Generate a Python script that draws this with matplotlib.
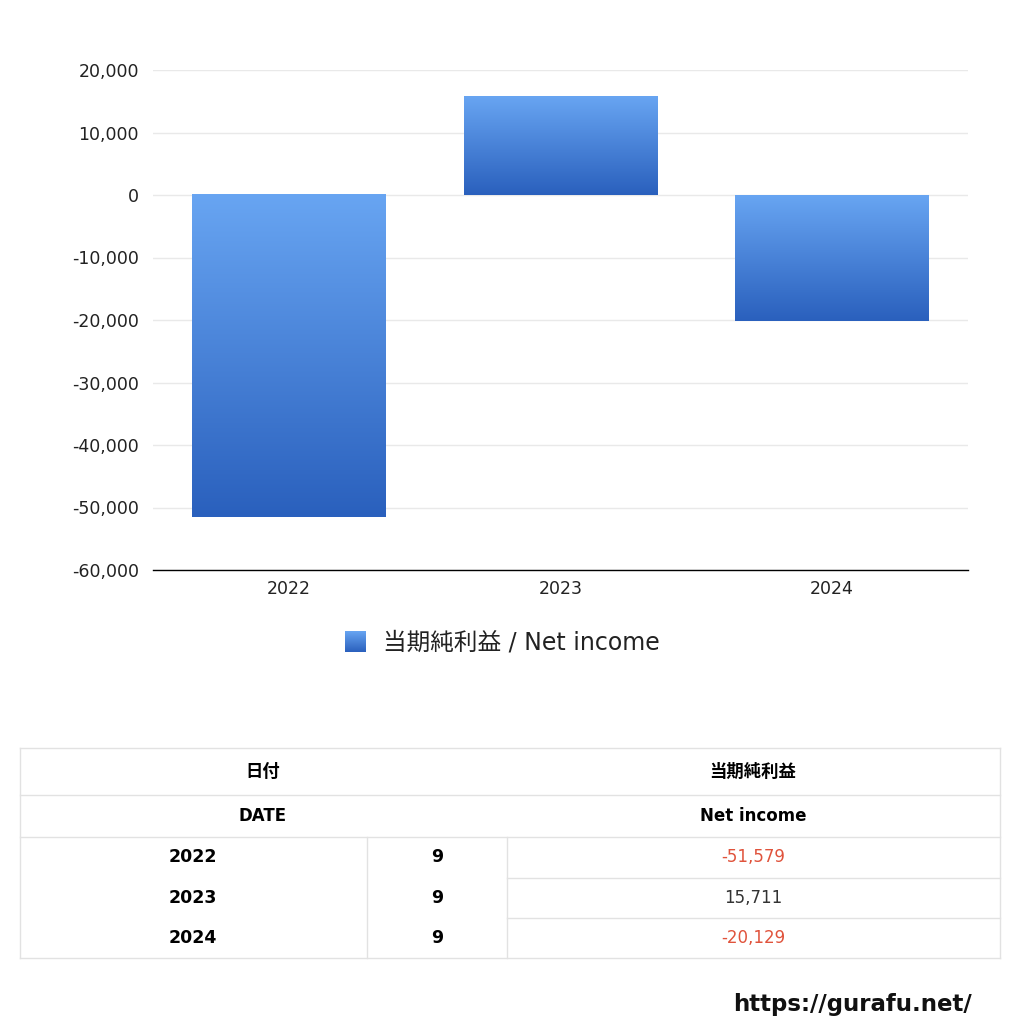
import matplotlib.pyplot as plt
import numpy as np
from matplotlib.colors import LinearSegmentedColormap

plt.rcParams['font.family'] = ['DejaVu Sans', 'Noto Sans CJK JP']

# data
years = ['2022', '2023', '2024']
months = ['9', '9', '9']
net_income = [-51579, 15711, -20129]
series_label = '当期純利益 / Net income'
yticks = [20000, 10000, 0, -10000, -20000, -30000, -40000, -50000, -60000]

LIGHT = '#68a5f2'
DARK = '#2a60bd'
GRID = '#e9e9e9'
cmap = LinearSegmentedColormap.from_list('bar', [LIGHT, DARK])
grad = np.linspace(0, 1, 256).reshape(-1, 1)

fig = plt.figure(figsize=(10.24, 10.24), dpi=100)
ax = fig.add_axes([153 / 1024, 1 - 570 / 1024, 815 / 1024, 500 / 1024])

x = np.arange(len(years))
bars = ax.bar(x, net_income, width=0.714, color='none', zorder=3)

# gradient fill: light at the top, dark at the bottom of each bar
for b in bars:
    x0, y0 = b.get_x(), b.get_y()
    w, h = b.get_width(), b.get_height()
    ylo, yhi = min(y0, y0 + h), max(y0, y0 + h)
    ax.imshow(grad, extent=[x0, x0 + w, ylo, yhi], cmap=cmap,
              aspect='auto', origin='upper', zorder=3)

ax.set_xlim(-0.5, 2.5)
ax.set_ylim(-60000, 20000)
ax.set_xticks(x)
ax.set_xticklabels(years, fontsize=12.5)
ax.set_yticks(yticks)
ax.set_yticklabels([f'{v:,}' for v in yticks], fontsize=12.5)
ax.tick_params(length=0, colors='#222222')
ax.tick_params(axis='x', pad=7)
ax.tick_params(axis='y', pad=10)
ax.grid(axis='y', color=GRID, linewidth=1, zorder=0)
for s in ['left', 'right', 'top']:
    ax.spines[s].set_visible(False)
ax.spines['bottom'].set_color('black')
ax.spines['bottom'].set_linewidth(1)
ax.spines['bottom'].set_zorder(4)

# overlay in pixel coordinates for legend, table and footer
ov = fig.add_axes([0, 0, 1, 1])
ov.set_xlim(0, 1024)
ov.set_ylim(1024, 0)
ov.axis('off')

# legend
ov.imshow(grad, extent=[345, 366, 652, 631], cmap=cmap, aspect='auto', origin='upper')
ov.text(383, 643, series_label, fontsize=17, va='center', ha='left', color='#222222')
ov.set_xlim(0, 1024)
ov.set_ylim(1024, 0)

# table
LC = '#e2e2e2'
L, R, M1, M2 = 20, 1000, 367, 507
rows_y = [748, 795, 837, 878, 918, 958]
for yy in [748, 795, 837, 958]:
    ov.plot([L, R], [yy, yy], color=LC, lw=1)
for yy in [878, 918]:
    ov.plot([M2, R], [yy, yy], color=LC, lw=1)
ov.plot([L, L], [748, 958], color=LC, lw=1)
ov.plot([R, R], [748, 958], color=LC, lw=1)
ov.plot([M1, M1], [837, 958], color=LC, lw=1)
ov.plot([M2, M2], [837, 958], color=LC, lw=1)

ov.text(263, 772, '日付', fontsize=12.5, fontweight='bold', ha='center', va='center',
        family=['Noto Sans CJK JP'])
ov.text(753, 772, '当期純利益', fontsize=12.5, fontweight='bold', ha='center', va='center',
        family=['Noto Sans CJK JP'])
ov.text(263, 816, 'DATE', fontsize=12, fontweight='bold', ha='center', va='center')
ov.text(753, 816, 'Net income', fontsize=12, fontweight='bold', ha='center', va='center')
for i, (yr, mo, v) in enumerate(zip(years, months, net_income)):
    yc = (rows_y[i + 2] + rows_y[i + 3]) / 2
    ov.text(193, yc, yr, fontsize=12.5, fontweight='bold', ha='center', va='center')
    ov.text(437, yc, mo, fontsize=12.5, fontweight='bold', ha='center', va='center')
    ov.text(753, yc, f'{v:,}', fontsize=12, ha='center', va='center',
            color='#e0533c' if v < 0 else '#333333')

ov.text(972, 1005, 'https://gurafu.net/', fontsize=16.5, fontweight='bold',
        ha='right', va='center', color='#111111')

fig.savefig('out.png', dpi=100, facecolor='white')
